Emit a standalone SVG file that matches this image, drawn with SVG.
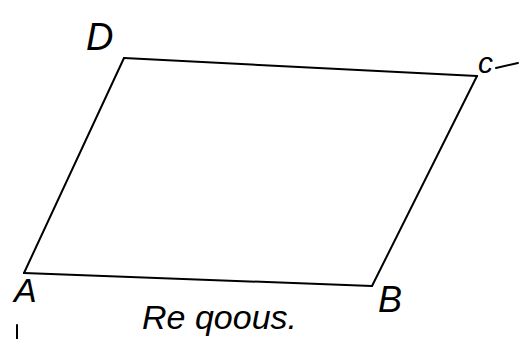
<svg xmlns="http://www.w3.org/2000/svg" width="523" height="339" viewBox="0 0 523 339">
<style>
.edge{stroke:#000;stroke-width:2;fill:none;stroke-linecap:round}
.lbl{font-family:"Liberation Sans",Arial,sans-serif;font-style:italic;fill:#000}
</style>
<rect width="523" height="339" fill="#fff"/>
<g id="connectors">
<line class="edge" x1="24" y1="273" x2="124" y2="58"/>
<line class="edge" x1="124" y1="58" x2="477" y2="76"/>
<line class="edge" x1="477" y1="76" x2="372" y2="286"/>
<line class="edge" x1="24" y1="273" x2="372" y2="286"/>
</g>
<g id="node-D"><text class="lbl" x="86" y="50" font-size="38">D</text></g>
<g id="node-C"><text class="lbl" x="478" y="73" font-size="30">c</text><line class="edge" x1="496" y1="68" x2="518" y2="63"/></g>
<g id="node-A"><text class="lbl" x="14" y="302" font-size="34">A</text></g>
<g id="node-B"><text class="lbl" x="378" y="312" font-size="36">B</text></g>
<g id="caption"><text class="lbl" x="142" y="329" font-size="34" font-family="Liberation Serif">Re qoous.</text></g>
<line class="edge" x1="17" y1="325" x2="17" y2="339"/>
</svg>
